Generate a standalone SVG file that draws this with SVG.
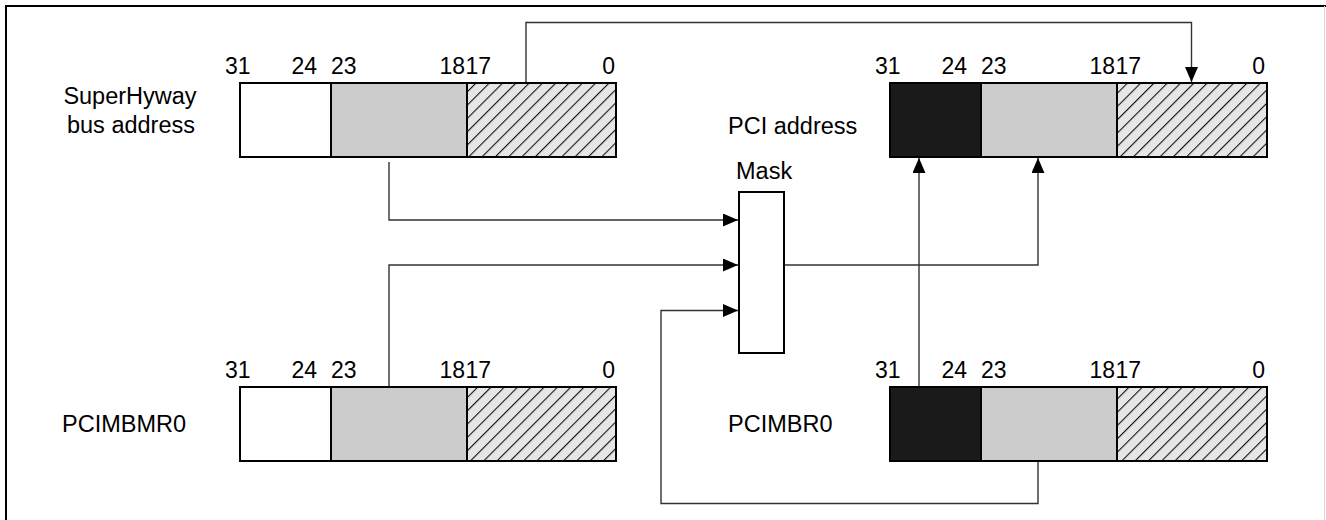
<svg xmlns="http://www.w3.org/2000/svg" width="1326" height="520" viewBox="0 0 1326 520">
  <style>
    .frame { fill: none; stroke: #000; stroke-width: 2; }
    .cell { stroke: #000; stroke-width: 2; }
    .free { fill: #fff; }
    .mid { fill: #cccccc; }
    .dark { fill: #1a1a1a; }
    .hatch { fill: url(#diag); }
    .bit { font-family: "Liberation Sans", Arial, sans-serif; font-size: 23px; fill: #000; }
    .label { font-family: "Liberation Sans", Arial, sans-serif; font-size: 23.5px; fill: #000; }
    .wire { fill: none; stroke: #333; stroke-width: 1.4; }
    .box { fill: #fff; stroke: #000; stroke-width: 2; }
  </style>
  <defs>
    <pattern id="diag" patternUnits="userSpaceOnUse" width="9.4" height="9.4" patternTransform="rotate(45)">
      <rect width="9.4" height="9.4" fill="#e6e6e6"/>
      <line x1="0" y1="0" x2="0" y2="9.4" stroke="#111" stroke-width="2.2"/>
    </pattern>
    <marker id="head" viewBox="0 0 15 13" refX="15" refY="6.5" markerWidth="15" markerHeight="13" markerUnits="userSpaceOnUse" orient="auto">
      <path d="M0,0 L15,6.5 L0,13 Z" fill="#000"/>
    </marker>
  </defs>

  <rect width="1326" height="520" fill="#fff"/>
  <!-- outer frame -->
  <path class="frame" d="M6,520 V6 H1326"/>
  <line x1="1324.5" y1="6" x2="1324.5" y2="520" stroke="#d8d8d8" stroke-width="1"/>

  <!-- connectors -->
  <g id="connectors">
    <!-- bits 17..0 of bus address routed to PCI address -->
    <path class="wire" d="M526,83 V22.5 H1191.5 V82" marker-end="url(#head)"/>
    <!-- bus address 23..18 into mask -->
    <path class="wire" d="M389,162 V220 H738" marker-end="url(#head)"/>
    <!-- PCIMBMR0 23..18 into mask -->
    <path class="wire" d="M389,387 V265 H738" marker-end="url(#head)"/>
    <!-- PCIMBR0 23..18 into mask -->
    <path class="wire" d="M1038,462 V503.5 H661 V310.5 H738" marker-end="url(#head)"/>
    <!-- mask output to PCI address 23..18 -->
    <path class="wire" d="M785,265 H1038 V158" marker-end="url(#head)"/>
    <!-- PCIMBR0 31..24 to PCI address 31..24 -->
    <path class="wire" d="M919,387 V158" marker-end="url(#head)"/>
  </g>

  <!-- SuperHyway bus address register -->
  <g id="sh-address">
    <text class="label" x="130" y="104" text-anchor="middle">SuperHyway</text>
    <text class="label" x="131" y="133" text-anchor="middle">bus address</text>
    <text class="bit" x="225" y="74">31</text>
    <text class="bit" x="317" y="74" text-anchor="end">24</text>
    <text class="bit" x="331" y="74">23</text>
    <text class="bit" x="465" y="74" text-anchor="end">18</text>
    <text class="bit" x="465.5" y="74">17</text>
    <text class="bit" x="615" y="74" text-anchor="end">0</text>
    <rect class="cell free" x="240" y="83" width="91" height="74"/>
    <rect class="cell mid" x="331" y="83" width="136" height="74"/>
    <rect class="cell hatch" x="467" y="83" width="149" height="74"/>
  </g>

  <!-- PCI address register -->
  <g id="pci-address">
    <text class="label" x="728" y="134">PCI address</text>
    <text class="bit" x="875" y="74">31</text>
    <text class="bit" x="967" y="74" text-anchor="end">24</text>
    <text class="bit" x="981" y="74">23</text>
    <text class="bit" x="1115" y="74" text-anchor="end">18</text>
    <text class="bit" x="1115.5" y="74">17</text>
    <text class="bit" x="1265" y="74" text-anchor="end">0</text>
    <rect class="cell dark" x="890" y="83" width="91" height="74"/>
    <rect class="cell mid" x="981" y="83" width="136" height="74"/>
    <rect class="cell hatch" x="1117" y="83" width="150" height="74"/>
  </g>

  <!-- Mask block -->
  <g id="mask">
    <text class="label" x="736" y="179">Mask</text>
    <rect class="box" x="739" y="192" width="45" height="161"/>
  </g>

  <!-- PCIMBMR0 register -->
  <g id="pcimbmr0">
    <text class="label" x="62" y="432">PCIMBMR0</text>
    <text class="bit" x="225" y="378">31</text>
    <text class="bit" x="317" y="378" text-anchor="end">24</text>
    <text class="bit" x="331" y="378">23</text>
    <text class="bit" x="465" y="378" text-anchor="end">18</text>
    <text class="bit" x="465.5" y="378">17</text>
    <text class="bit" x="615" y="378" text-anchor="end">0</text>
    <rect class="cell free" x="240" y="387" width="91" height="74"/>
    <rect class="cell mid" x="331" y="387" width="136" height="74"/>
    <rect class="cell hatch" x="467" y="387" width="149" height="74"/>
  </g>

  <!-- PCIMBR0 register -->
  <g id="pcimbr0">
    <text class="label" x="728" y="432">PCIMBR0</text>
    <text class="bit" x="875" y="378">31</text>
    <text class="bit" x="967" y="378" text-anchor="end">24</text>
    <text class="bit" x="981" y="378">23</text>
    <text class="bit" x="1115" y="378" text-anchor="end">18</text>
    <text class="bit" x="1115.5" y="378">17</text>
    <text class="bit" x="1265" y="378" text-anchor="end">0</text>
    <rect class="cell dark" x="890" y="387" width="91" height="74"/>
    <rect class="cell mid" x="981" y="387" width="136" height="74"/>
    <rect class="cell hatch" x="1117" y="387" width="150" height="74"/>
  </g>
</svg>
